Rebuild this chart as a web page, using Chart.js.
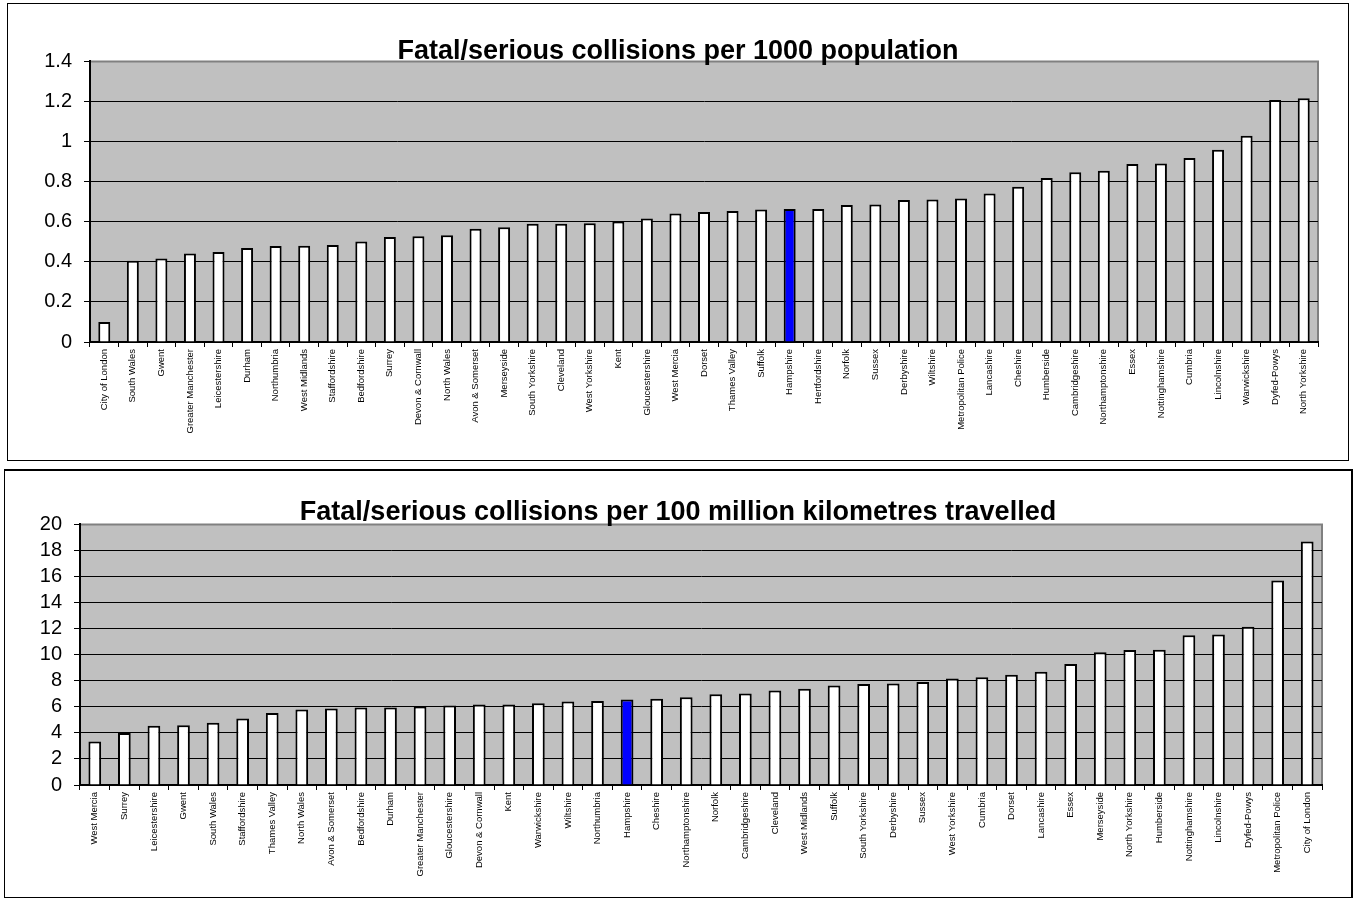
<!DOCTYPE html>
<html>
<head>
<meta charset="utf-8">
<script src="https://cdn.jsdelivr.net/npm/chart.js@4.4.1/dist/chart.umd.min.js"></script>
<style>
  html, body { margin: 0; padding: 0; background: #fff; }
  .box { position: absolute; border: 1px solid #000; background: #fff; }
  #box1 { left: 7px; top: 3px; width: 1340px; height: 456px; }
  #box2 { left: 4px; top: 469px; width: 1346px; height: 426px; border-width: 2px 2px 1px 1px; }
  canvas { display: block; }
</style>
</head>
<body>
<div class="box" id="box1"><canvas id="chart1" width="1340" height="456"></canvas></div>
<div class="box" id="box2"><canvas id="chart2" width="1346" height="426"></canvas></div>
<script>
// per 1000 population
var popLabels = ["City of London", "South Wales", "Gwent", "Greater Manchester", "Leicestershire",
  "Durham", "Northumbria", "West Midlands", "Staffordshire", "Bedfordshire", "Surrey",
  "Devon & Cornwall", "North Wales", "Avon & Somerset", "Merseyside", "South Yorkshire",
  "Cleveland", "West Yorkshire", "Kent", "Gloucestershire", "West Mercia", "Dorset",
  "Thames Valley", "Suffolk", "Hampshire", "Hertfordshire", "Norfolk", "Sussex", "Derbyshire",
  "Wiltshire", "Metropolitan Police", "Lancashire", "Cheshire", "Humberside", "Cambridgeshire",
  "Northamptonshire", "Essex", "Nottinghamshire", "Cumbria", "Lincolnshire", "Warwickshire",
  "Dyfed-Powys", "North Yorkshire"];
var popValues = [0.10, 0.406, 0.416, 0.442, 0.449, 0.469, 0.479, 0.480, 0.484, 0.502, 0.524,
  0.527, 0.532, 0.565, 0.573, 0.590, 0.590, 0.593, 0.601, 0.616, 0.641, 0.648, 0.653, 0.661,
  0.664, 0.664, 0.684, 0.686, 0.709, 0.711, 0.716, 0.741, 0.774, 0.818, 0.847, 0.855, 0.888,
  0.891, 0.918, 0.959, 1.029, 1.208, 1.216];

// per 100 million km travelled
var kmLabels = ["West Mercia", "Surrey", "Leicestershire", "Gwent", "South Wales", "Staffordshire",
  "Thames Valley", "North Wales", "Avon & Somerset", "Bedfordshire", "Durham",
  "Greater Manchester", "Gloucestershire", "Devon & Cornwall", "Kent", "Warwickshire",
  "Wiltshire", "Northumbria", "Hampshire", "Cheshire", "Northamptonshire", "Norfolk",
  "Cambridgeshire", "Cleveland", "West Midlands", "Suffolk", "South Yorkshire", "Derbyshire",
  "Sussex", "West Yorkshire", "Cumbria", "Dorset", "Lancashire", "Essex", "Merseyside",
  "North Yorkshire", "Humberside", "Nottinghamshire", "Lincolnshire", "Dyfed-Powys",
  "Metropolitan Police", "City of London"];
var kmValues = [3.33, 3.99, 4.55, 4.58, 4.78, 5.11, 5.52, 5.80, 5.88, 5.95, 5.95, 6.03, 6.11,
  6.18, 6.18, 6.28, 6.41, 6.44, 6.56, 6.62, 6.74, 6.97, 7.02, 7.25, 7.38, 7.63, 7.76, 7.79,
  7.91, 8.17, 8.27, 8.47, 8.70, 9.29, 10.18, 10.36, 10.38, 11.50, 11.55, 12.14, 15.70, 18.68];

var popTicks = { min: 0, max: 1.4, step: 0.2 };
var kmTicks = { min: 0, max: 20, step: 2 };
var highlight = "Hampshire";

var FONT = "Arial, 'Liberation Sans', sans-serif";

// grey plot background + grey top/right frame
var plotBg = {
  id: "plotBg",
  beforeDraw: function (chart) {
    var a = chart.chartArea, c = chart.ctx;
    c.save();
    c.fillStyle = "#c0c0c0";
    c.fillRect(a.left, a.top, a.right - a.left, a.bottom - a.top);
    c.strokeStyle = "#808080";
    c.lineWidth = 2;
    c.beginPath();
    c.moveTo(a.left, a.top);
    c.lineTo(a.right, a.top);
    c.lineTo(a.right, a.bottom);
    c.stroke();
    c.restore();
  }
};

function makeChart(id, labels, values, ticks, title, opt) {
  new Chart(document.getElementById(id), {
    type: "bar",
    data: {
      labels: labels,
      datasets: [{
        data: values,
        backgroundColor: labels.map(function (l) { return l === highlight ? "#0000ff" : "#ffffff"; }),
        borderColor: "#000",
        borderWidth: 2,
        barPercentage: opt.barPct,
        categoryPercentage: 1
      }]
    },
    options: {
      responsive: false,
      animation: false,
      layout: { padding: { left: opt.padL, right: opt.padR, top: 0, bottom: 0 } },
      plugins: {
        legend: { display: false },
        tooltip: { enabled: false },
        title: {
          display: true,
          text: title,
          color: "#000",
          font: { family: FONT, size: 27, weight: "bold" },
          padding: { top: opt.titleTop, bottom: opt.titleBottom }
        }
      },
      scales: {
        x: {
          afterFit: function (s) { s.height = opt.xHeight; },
          grid: { drawOnChartArea: false, drawTicks: true, tickLength: 5, color: "#000", offset: true },
          border: { color: "#000", width: 2 },
          ticks: {
            autoSkip: false, minRotation: 90, maxRotation: 90, padding: 2,
            color: "#000", font: { family: FONT, size: 9.5 }
          }
        },
        y: {
          min: ticks.min,
          max: ticks.max,
          afterFit: function (s) { s.width = opt.yWidth; },
          grid: {
            color: function (ctx) {
              return ctx.tick && ctx.tick.value === ticks.max ? "rgba(0,0,0,0)" : "#000";
            },
            tickColor: "#000",
            tickLength: 6,
            lineWidth: 1
          },
          border: { color: "#000", width: 2 },
          ticks: {
            stepSize: ticks.step,
            autoSkip: false,
            padding: 12,
            color: "#000",
            font: { family: FONT, size: 20 },
            callback: function (v) { return String(Number(v.toFixed(1))); }
          }
        }
      }
    },
    plugins: [plotBg]
  });
}

makeChart("chart1", popLabels, popValues, popTicks,
  "Fatal/serious collisions per 1000 population",
  { padL: 30, padR: 30, yWidth: 52, xHeight: 118, titleTop: 31, titleBottom: -6, barPct: 0.42 });

makeChart("chart2", kmLabels, kmValues, kmTicks,
  "Fatal/serious collisions per 100 million kilometres travelled",
  { padL: 29, padR: 29, yWidth: 46, xHeight: 112, titleTop: 25, titleBottom: -4, barPct: 0.43 });
</script>
</body>
</html>
